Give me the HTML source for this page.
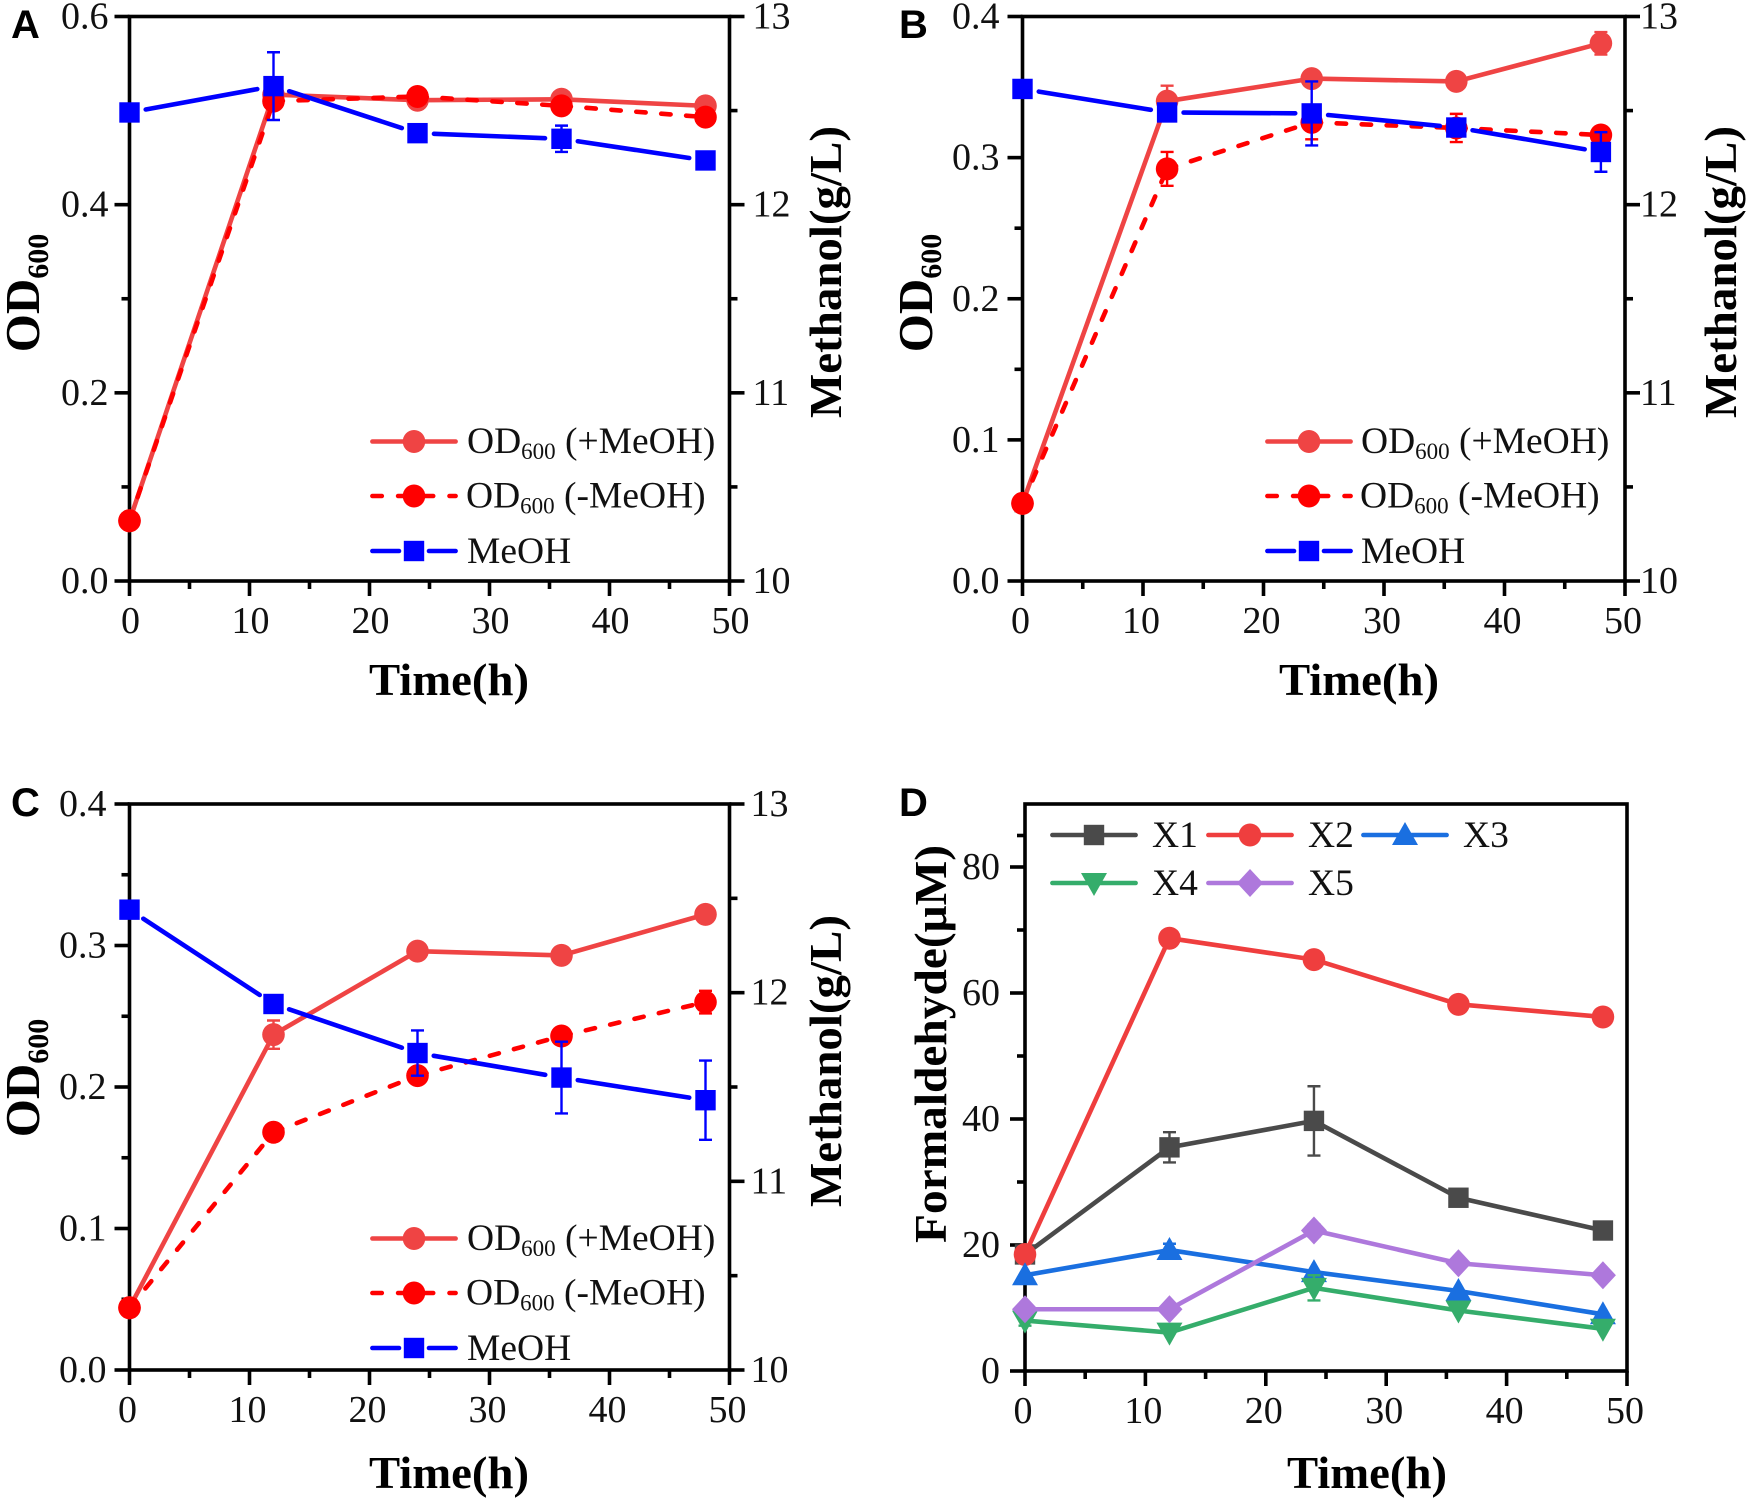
<!DOCTYPE html>
<html lang="en">
<head>
<meta charset="utf-8">
<title>OD600, methanol and formaldehyde time courses</title>
<style>
html,body{margin:0;padding:0;background:#fff;}
svg{display:block;}
text{font-family:"Liberation Serif",serif;fill:#111;}
.tick{font-size:38px;}
.leg{font-size:37.5px;}
.title{font-size:46px;font-weight:bold;fill:#000;}
.od{font-size:49px;}
.letter{font-family:"Liberation Sans",sans-serif;font-size:40px;font-weight:bold;fill:#000;}
</style>
</head>
<body>
<svg id="fig" xmlns="http://www.w3.org/2000/svg" width="1748" height="1499" viewBox="0 0 1748 1499">
  <g id="panel-a">
    <text class="letter" x="11" y="38">A</text>
    <text class="title" x="449" y="695" text-anchor="middle" textLength="160" lengthAdjust="spacingAndGlyphs">Time(h)</text>
    <text class="title od" transform="translate(39,293) rotate(-90)" text-anchor="middle">OD<tspan dy="9" font-size="30">600</tspan></text>
    <text class="title" transform="translate(841,272) rotate(-90)" text-anchor="middle" textLength="292" lengthAdjust="spacingAndGlyphs">Methanol(g/L)</text>
  </g>
  <g id="panel-b">
    <text class="letter" x="899" y="38">B</text>
    <text class="title" x="1359" y="695" text-anchor="middle" textLength="160" lengthAdjust="spacingAndGlyphs">Time(h)</text>
    <text class="title od" transform="translate(932,293) rotate(-90)" text-anchor="middle">OD<tspan dy="9" font-size="30">600</tspan></text>
    <text class="title" transform="translate(1736,272) rotate(-90)" text-anchor="middle" textLength="292" lengthAdjust="spacingAndGlyphs">Methanol(g/L)</text>
  </g>
  <g id="panel-c">
    <text class="letter" x="11" y="816">C</text>
    <text class="title" x="449" y="1488" text-anchor="middle" textLength="160" lengthAdjust="spacingAndGlyphs">Time(h)</text>
    <text class="title od" transform="translate(39,1078) rotate(-90)" text-anchor="middle">OD<tspan dy="9" font-size="30">600</tspan></text>
    <text class="title" transform="translate(841,1061) rotate(-90)" text-anchor="middle" textLength="292" lengthAdjust="spacingAndGlyphs">Methanol(g/L)</text>
  </g>
  <g id="panel-d">
    <text class="letter" x="899" y="816">D</text>
    <text class="title" x="1367" y="1488" text-anchor="middle" textLength="160" lengthAdjust="spacingAndGlyphs">Time(h)</text>
    <text class="title" transform="translate(946,1044) rotate(-90)" text-anchor="middle" textLength="398" lengthAdjust="spacingAndGlyphs">Formaldehyde(μM)</text>
  </g>
  <g id="legends">
    <text class="leg" x="467" y="453">OD<tspan dy="6" font-size="23">600</tspan><tspan dy="-6"> (+MeOH)</tspan></text>
    <text class="leg" x="466" y="507.5">OD<tspan dy="6" font-size="23">600</tspan><tspan dy="-6"> (-MeOH)</tspan></text>
    <text class="leg" x="467" y="563">MeOH</text>
    <text class="leg" x="1361" y="453">OD<tspan dy="6" font-size="23">600</tspan><tspan dy="-6"> (+MeOH)</tspan></text>
    <text class="leg" x="1360" y="507.5">OD<tspan dy="6" font-size="23">600</tspan><tspan dy="-6"> (-MeOH)</tspan></text>
    <text class="leg" x="1361" y="563">MeOH</text>
    <text class="leg" x="467" y="1250">OD<tspan dy="6" font-size="23">600</tspan><tspan dy="-6"> (+MeOH)</tspan></text>
    <text class="leg" x="466" y="1304.5">OD<tspan dy="6" font-size="23">600</tspan><tspan dy="-6"> (-MeOH)</tspan></text>
    <text class="leg" x="467" y="1360">MeOH</text>
    <text class="leg" x="1152" y="847">X1</text>
    <text class="leg" x="1308" y="847">X2</text>
    <text class="leg" x="1463" y="847">X3</text>
    <text class="leg" x="1152" y="895">X4</text>
    <text class="leg" x="1308" y="895">X5</text>
  </g>
</svg>
<script>
// ---------- data ----------
const hours = [0, 12, 24, 36, 48];
const xTicks = [0, 10, 20, 30, 40, 50];
const methanolTicks = [10, 11, 12, 13];

const aLeftTicks = [0, 0.2, 0.4, 0.6];
const aOdPlus = [0.064, 0.517, 0.511, 0.512, 0.505];
const aOdPlusErr = [0, 0, 0.006, 0.004, 0.004];
const aOdMinus = [0.064, 0.510, 0.515, 0.505, 0.493];
const aOdMinusErr = [0, 0, 0.004, 0.004, 0.005];
const aMeoh = [12.49, 12.63, 12.38, 12.35, 12.235];
const aMeohErr = [0, 0.18, 0, 0.07, 0];

const bLeftTicks = [0, 0.1, 0.2, 0.3, 0.4];
const bOdPlus = [0.055, 0.340, 0.356, 0.354, 0.381];
const bOdPlusErr = [0.004, 0.011, 0, 0, 0.008];
const bOdMinus = [0.055, 0.292, 0.325, 0.321, 0.316];
const bOdMinusErr = [0.002, 0.012, 0.012, 0.010, 0];
const bMeoh = [12.615, 12.49, 12.485, 12.41, 12.28];
const bMeohErr = [0, 0, 0.17, 0, 0.105];

const cLeftTicks = [0, 0.1, 0.2, 0.3, 0.4];
const cOdPlus = [0.044, 0.237, 0.296, 0.293, 0.322];
const cOdPlusErr = [0.004, 0.010, 0, 0, 0];
const cOdMinus = [0.044, 0.168, 0.208, 0.236, 0.260];
const cOdMinusErr = [0.002, 0, 0, 0, 0.008];
const cMeoh = [12.44, 11.94, 11.68, 11.55, 11.43];
const cMeohErr = [0, 0, 0.12, 0.19, 0.21];

const dLeftTicks = [0, 20, 40, 60, 80];
const dX1 = [18.5, 35.5, 39.7, 27.5, 22.3];
const dX1Err = [0, 2.4, 5.5, 0.8, 1];
const dX2 = [18.5, 68.7, 65.3, 58.2, 56.2];
const dX2Err = [0, 0.8, 0, 0, 1];
const dX3 = [15.2, 19.2, 15.7, 12.7, 9];
const dX3Err = [0, 1, 0, 0, 0];
const dX4 = [8, 6.1, 13.2, 9.6, 6.7];
const dX4Err = [0.8, 0, 2, 0, 0];
const dX5 = [9.8, 9.8, 22.3, 17.1, 15.2];
const dX5Err = [0, 0, 1, 0, 0];

// ---------- drawing helpers ----------
const NS = 'http://www.w3.org/2000/svg';
const LINE_W = 4.6;
function mk(tag, attrs, parent) {
  const node = document.createElementNS(NS, tag);
  for (const key in attrs) node.setAttribute(key, attrs[key]);
  parent.appendChild(node);
  return node;
}
function scale(d0, d1, r0, r1) {
  return function (v) { return r0 + (v - d0) * (r1 - r0) / (d1 - d0); };
}
function tickLine(parent, x1, y1, x2, y2, name) {
  const t = mk('line', {x1: x1, y1: y1, x2: x2, y2: y2, stroke: '#000', 'stroke-width': 3.6}, parent);
  
  
}
function tickText(parent, x, y, anchor, str, name) {
  const t = mk('text', {x: x, y: y, 'text-anchor': anchor, class: 'tick'}, parent);
  t.textContent = str;
  
  
}
function drawAxes(id, b, ticksLeft, decimals, rightTicks) {
  const parent = document.getElementById(id);
  const sx = scale(0, 50, b.x0, b.x1);
  const sy = scale(ticksLeft[0], b.yMax, b.y0, b.y1);
  const frame = mk('rect', {x: b.x0, y: b.y1, width: b.x1 - b.x0, height: b.y0 - b.y1, fill: 'none', stroke: '#000', 'stroke-width': 3.6}, parent);
  
  
  xTicks.forEach(function (v, i) {
    tickLine(parent, sx(v), b.y0, sx(v), b.y0 + 15, id + '-x-tick');
    tickText(parent, sx(v) + b.xLabelShift, b.y0 + 52, 'middle', String(v), id + '-x-tick-label');
    if (i < xTicks.length - 1) {
      const m = (v + xTicks[i + 1]) / 2;
      tickLine(parent, sx(m), b.y0, sx(m), b.y0 + 8, id + '-x-minor-tick');
    }
  });
  ticksLeft.forEach(function (v, i) {
    tickLine(parent, b.x0 - 15, sy(v), b.x0, sy(v), id + '-left-tick');
    tickText(parent, b.x0 - b.leftLabelGap, sy(v) + 12, 'end', v.toFixed(decimals), id + '-left-tick-label');
    const next = i < ticksLeft.length - 1 ? ticksLeft[i + 1] : b.yMax;
    if (next > v) {
      const m = (v + next) / 2;
      tickLine(parent, b.x0 - 8, sy(m), b.x0, sy(m), id + '-left-minor-tick');
    }
  });
  if (rightTicks) {
    const sr = scale(10, 13, b.y0, b.y1);
    rightTicks.forEach(function (v, i) {
      tickLine(parent, b.x1, sr(v), b.x1 + 15, sr(v), id + '-right-tick');
      tickText(parent, b.x1 + b.rightLabelGap, sr(v) + 12, 'start', String(v), id + '-right-tick-label');
      if (i < rightTicks.length - 1) {
        const m = (v + rightTicks[i + 1]) / 2;
        tickLine(parent, b.x1, sr(m), b.x1 + 8, sr(m), id + '-right-minor-tick');
      }
    });
  }
}
function drawMarker(parent, shape, x, y, color, name) {
  let m;
  if (shape === 'circle') {
    m = mk('ellipse', {cx: x, cy: y, rx: 11.3, ry: 11.5, fill: color}, parent);
  } else if (shape === 'square') {
    m = mk('rect', {x: x - 10.2, y: y - 10.2, width: 20.4, height: 20.4, fill: color}, parent);
  } else if (shape === 'up') {
    m = mk('polygon', {points: (x - 13) + ',' + (y + 10) + ' ' + (x + 13) + ',' + (y + 10) + ' ' + x + ',' + (y - 13), fill: color}, parent);
  } else if (shape === 'down') {
    m = mk('polygon', {points: (x - 13) + ',' + (y - 10) + ' ' + (x + 13) + ',' + (y - 10) + ' ' + x + ',' + (y + 13), fill: color}, parent);
  } else {
    m = mk('polygon', {points: (x - 13) + ',' + y + ' ' + x + ',' + (y - 14) + ' ' + (x + 13) + ',' + y + ' ' + x + ',' + (y + 14), fill: color}, parent);
  }
  
  
}
function drawSeries(parentId, name, values, errors, sx, sy, style) {
  const parent = document.getElementById(parentId);
  const pts = values.map(function (v, i) { return [sx(hours[i]), sy(v)]; });
  const gap = style.gap || 0;
  for (let i = 0; i < pts.length - 1; i++) {
    const dx = pts[i + 1][0] - pts[i][0], dy = pts[i + 1][1] - pts[i][1];
    const len = Math.sqrt(dx * dx + dy * dy);
    const ux = dx / len, uy = dy / len;
    const attrs = {
      x1: pts[i][0] + ux * gap, y1: pts[i][1] + uy * gap,
      x2: pts[i + 1][0] - ux * gap, y2: pts[i + 1][1] - uy * gap,
      stroke: style.color, 'stroke-width': LINE_W, 'stroke-linecap': 'round'
    };
    if (style.dash) attrs['stroke-dasharray'] = style.dash;
    const seg = mk('line', attrs, parent);
    
    
  }
  pts.forEach(function (p, i) {
    const e = errors[i];
    if (e > 0) {
      const top = sy(values[i] + e), bottom = sy(values[i] - e);
      const body = mk('path', {d: 'M' + p[0] + ' ' + top + 'V' + bottom + 'M' + (p[0] - 6.5) + ' ' + top + 'H' + (p[0] + 6.5) + 'M' + (p[0] - 6.5) + ' ' + bottom + 'H' + (p[0] + 6.5), fill: 'none', stroke: style.color, 'stroke-width': 2.4}, parent);
      
      
    }
    drawMarker(parent, style.shape, p[0], p[1], style.color, name + '-point');
  });
}
function legendKey(x0, x1, y, style, name) {
  const parent = document.getElementById('legends');
  const mid = (x0 + x1) / 2;
  const cap = 'round';
  const left = x0 + 2.4;
  const right = x1 - 2.4;
  if (style.gap) {
    const a = mk('line', {x1: left, y1: y, x2: mid - 15, y2: y, stroke: style.color, 'stroke-width': LINE_W, 'stroke-linecap': cap}, parent);
    
    
    const b = mk('line', {x1: mid + 15, y1: y, x2: right, y2: y, stroke: style.color, 'stroke-width': LINE_W, 'stroke-linecap': cap}, parent);
    
    
  } else {
    const attrs = {x1: left, y1: y, x2: right, y2: y, stroke: style.color, 'stroke-width': LINE_W, 'stroke-linecap': cap};
    if (style.dash) attrs['stroke-dasharray'] = '9.4 16.3';
    const l = mk('line', attrs, parent);
    
    
  }
  drawMarker(parent, style.shape, mid, y, style.color, name + '-marker');
}

// ---------- styles ----------
const odPlusStyle = {color: '#EF4444', shape: 'circle'};
const odMinusStyle = {color: '#FF0000', shape: 'circle', dash: '9.4 15.6'};
const meohStyle = {color: '#0000FF', shape: 'square', gap: 16.5};
const x1Style = {color: '#4A4A4A', shape: 'square'};
const x2Style = {color: '#EF3E3E', shape: 'circle'};
const x3Style = {color: '#1A6FE0', shape: 'up'};
const x4Style = {color: '#35AD6B', shape: 'down'};
const x5Style = {color: '#AE78DC', shape: 'diamond'};

// ---------- panel geometry ----------
const boxA = {x0: 129.5, x1: 729.5, y0: 581, y1: 16.5, yMax: 0.6, xLabelShift: 1, leftLabelGap: 21, rightLabelGap: 23};
const boxB = {x0: 1022.5, x1: 1625, y0: 581, y1: 16.5, yMax: 0.4, xLabelShift: -2, leftLabelGap: 23, rightLabelGap: 15};
const boxC = {x0: 129.5, x1: 729.5, y0: 1370, y1: 804, yMax: 0.4, xLabelShift: -2, leftLabelGap: 23, rightLabelGap: 21};
const boxD = {x0: 1025, x1: 1627, y0: 1371, y1: 804, yMax: 90, xLabelShift: -2, leftLabelGap: 25, rightLabelGap: 0};

function drawOdPanel(id, box, leftTicks, odPlus, odPlusErr, odMinus, odMinusErr, meoh, meohErr) {
  drawAxes(id, box, leftTicks, 1, methanolTicks);
  const sx = scale(0, 50, box.x0, box.x1);
  const sy = scale(0, box.yMax, box.y0, box.y1);
  const sr = scale(10, 13, box.y0, box.y1);
  drawSeries(id, id + '-od-plus', odPlus, odPlusErr, sx, sy, odPlusStyle);
  drawSeries(id, id + '-od-minus', odMinus, odMinusErr, sx, sy, odMinusStyle);
  drawSeries(id, id + '-meoh', meoh, meohErr, sx, sr, meohStyle);
}
drawOdPanel('panel-a', boxA, aLeftTicks, aOdPlus, aOdPlusErr, aOdMinus, aOdMinusErr, aMeoh, aMeohErr);
drawOdPanel('panel-b', boxB, bLeftTicks, bOdPlus, bOdPlusErr, bOdMinus, bOdMinusErr, bMeoh, bMeohErr);
drawOdPanel('panel-c', boxC, cLeftTicks, cOdPlus, cOdPlusErr, cOdMinus, cOdMinusErr, cMeoh, cMeohErr);

drawAxes('panel-d', boxD, dLeftTicks, 0, null);
const dSx = scale(0, 50, boxD.x0, boxD.x1);
const dSy = scale(0, boxD.yMax, boxD.y0, boxD.y1);
drawSeries('panel-d', 'x1', dX1, dX1Err, dSx, dSy, x1Style);
drawSeries('panel-d', 'x2', dX2, dX2Err, dSx, dSy, x2Style);
drawSeries('panel-d', 'x3', dX3, dX3Err, dSx, dSy, x3Style);
drawSeries('panel-d', 'x4', dX4, dX4Err, dSx, dSy, x4Style);
drawSeries('panel-d', 'x5', dX5, dX5Err, dSx, dSy, x5Style);

// ---------- legend keys ----------
legendKey(370, 458, 441.5, odPlusStyle, 'panel-a-legend-key-od-plus');
legendKey(370, 458, 496, odMinusStyle, 'panel-a-legend-key-od-minus');
legendKey(370, 458, 551, meohStyle, 'panel-a-legend-key-meoh');
legendKey(1265, 1353, 441.5, odPlusStyle, 'panel-b-legend-key-od-plus');
legendKey(1265, 1353, 496, odMinusStyle, 'panel-b-legend-key-od-minus');
legendKey(1265, 1353, 551, meohStyle, 'panel-b-legend-key-meoh');
legendKey(370, 458, 1238.5, odPlusStyle, 'panel-c-legend-key-od-plus');
legendKey(370, 458, 1293, odMinusStyle, 'panel-c-legend-key-od-minus');
legendKey(370, 458, 1348, meohStyle, 'panel-c-legend-key-meoh');
legendKey(1050, 1138, 835, x1Style, 'panel-d-legend-key-x1');
legendKey(1206, 1294, 835, x2Style, 'panel-d-legend-key-x2');
legendKey(1361, 1449, 835, x3Style, 'panel-d-legend-key-x3');
legendKey(1050, 1138, 883, x4Style, 'panel-d-legend-key-x4');
legendKey(1206, 1294, 883, x5Style, 'panel-d-legend-key-x5');
</script>
</body>
</html>
